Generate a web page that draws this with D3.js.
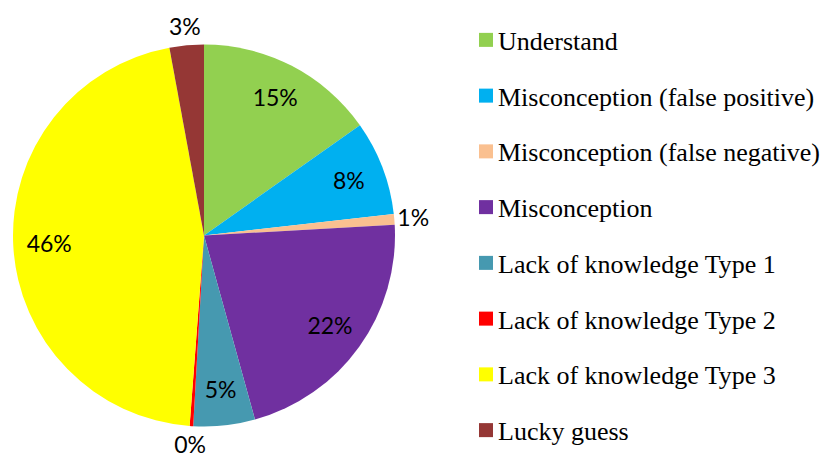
<!DOCTYPE html>
<html>
<head>
<meta charset="utf-8">
<script src="https://cdn.jsdelivr.net/npm/d3@7"></script>
</head>
<body style="margin:0">
<svg id="chart" width="829" height="459"></svg>
<script>
// categories and values (percent of answers)
var categories = [
	'Understand',
	'Misconception (false positive)',
	'Misconception (false negative)',
	'Misconception',
	'Lack of knowledge Type 1',
	'Lack of knowledge Type 2',
	'Lack of knowledge Type 3',
	'Lucky guess'
];
var values = [15.2, 8.0, 0.9, 21.6, 5.2, 0.3, 45.9, 2.9];
var colours = ['#92D050', '#00B0F0', '#FAC090', '#7030A0', '#4699B0', '#FF0000', '#FFFF00', '#953735'];
// labels drawn outside the pie (too small to fit inside)
var outside = [false, false, true, false, false, true, false, true];

var svg = d3.select('#chart');

var cx = 204, cy = 235.5, r = 191;

var pie = d3.pie().sort(null).value(function(d) { return d; });
var arcs = pie(values);

var arc = d3.arc().innerRadius(0).outerRadius(r);
var inLabel = d3.arc().innerRadius(155).outerRadius(155);
var outLabel = d3.arc().innerRadius(r + 19).outerRadius(r + 19);

// legend
var legend = d3.scaleBand().domain(categories).range([12, 458]);

svg.selectAll('rect.key')
	.data(categories)
	.enter().append('rect')
	.attr('class', 'key')
	.attr('x', 479)
	.attr('y', function(d) { return legend(d) + legend.bandwidth() / 2 - 7; })
	.attr('width', 14).attr('height', 14)
	.attr('fill', function(d, i) { return colours[i]; });

svg.selectAll('text.key')
	.data(categories)
	.enter().append('text')
	.attr('class', 'key')
	.attr('x', 498)
	.attr('y', function(d) { return legend(d) + legend.bandwidth() / 2 + 10; })
	.style('font-family', "'Tinos', 'Liberation Serif', 'Times New Roman', 'Noto Serif', 'DejaVu Serif'")
	.style('font-size', '26px')
	.text(function(d) { return d; });

var g = svg.append('g').attr('transform', 'translate(' + cx + ',' + cy + ')');

g.selectAll('path.slice')
	.data(arcs)
	.enter().append('path')
	.attr('class', 'slice')
	.attr('d', arc)
	.attr('fill', function(d, i) { return colours[i]; });

g.selectAll('text.pct')
	.data(arcs)
	.enter().append('text')
	.attr('class', 'pct')
	.attr('x', function(d, i) { return (outside[i] ? outLabel : inLabel).centroid(d)[0]; })
	.attr('y', function(d, i) { return (outside[i] ? outLabel : inLabel).centroid(d)[1]; })
	.attr('text-anchor', 'middle')
	.attr('dy', '0.36em')
	.style('font-family', "'Lato'")
	.style('font-size', '23px')
	.text(function(d) { return Math.round(d.data) + '%'; });
</script>
</body>
</html>
